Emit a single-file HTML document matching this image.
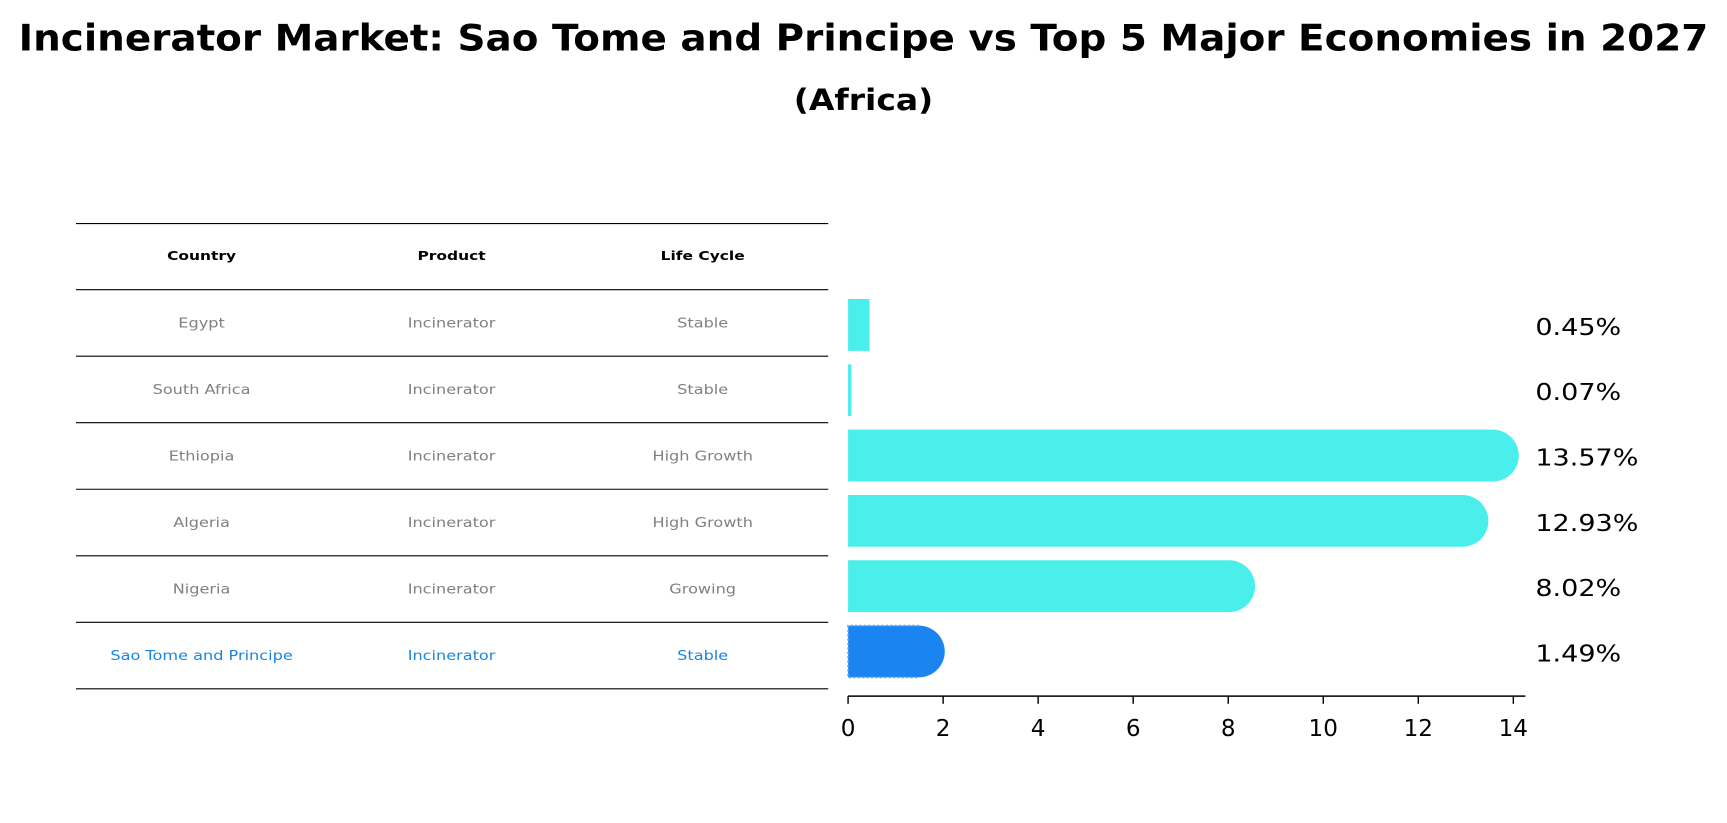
<!DOCTYPE html>
<html><head><meta charset="utf-8"><style>
html,body{margin:0;padding:0;background:#fff;}
svg{display:block;font-family:"DejaVu Sans","Liberation Sans",sans-serif;}
</style></head><body>
<svg id="chart" width="1727" height="823" viewBox="0 0 1568 747.2">
<text id="ttl" x="784" y="46" text-anchor="middle" font-size="33" font-weight="bold">Incinerator Market: Sao Tome and Principe vs Top 5 Major Economies in 2027</text>
<text id="sub" x="784" y="100" text-anchor="middle" font-size="27" font-weight="bold">(Africa)</text>
<g id="table"></g>
<g id="bars"></g>
<g id="axis"></g>
</svg>
<script>
const countries = ["Egypt","South Africa","Ethiopia","Algeria","Nigeria","Sao Tome and Principe"];
const products = ["Incinerator","Incinerator","Incinerator","Incinerator","Incinerator","Incinerator"];
const lifeCycles = ["Stable","Stable","High Growth","High Growth","Growing","Stable"];
const values = [0.45,0.07,13.57,12.93,8.02,1.49];
const valueLabels = ["0.45%","0.07%","13.57%","12.93%","8.02%","1.49%"];
const ticks = [0,2,4,6,8,10,12,14];

const NS="http://www.w3.org/2000/svg";
function mk(tag,attrs,parent,text){const e=document.createElementNS(NS,tag);for(const k in attrs)e.setAttribute(k,attrs[k]);if(text!==undefined)e.textContent=text;parent.appendChild(e);return e;}
function stretch(el,r){const w=el.getComputedTextLength();el.setAttribute('textLength',(w*r).toFixed(1));el.setAttribute('lengthAdjust','spacingAndGlyphs');}
const x0=770, x1=1374, tmax=14;
const xs=v=>x0+(x1-x0)*v/tmax;
const rowTop=263, rowH=60.4;
const rowC=i=>rowTop+rowH*i+rowH/2;
const barC=i=>295+59.3*i;

stretch(document.getElementById('ttl'),1.07);
stretch(document.getElementById('sub'),1.11);

const table=document.getElementById('table');
const cols=[183,410,638];
["Country","Product","Life Cycle"].forEach((h,j)=>{
  const t=mk('text',{x:cols[j],y:236,'text-anchor':'middle','font-size':11.5,'font-weight':'bold'},table,h);
  
  
  stretch(t,1.22);
});
for(let k=0;k<=countries.length+1;k++){
  const y=k===0?203:rowTop+rowH*(k-1);
  const l=mk('line',{x1:69,x2:752,y1:y,y2:y,stroke:'#000','stroke-width':1},table);
  
  
}
countries.forEach((c,i)=>{
  const last=i===countries.length-1;
  const col=last?'#1a85e0':'#808080';
  [c,products[i],lifeCycles[i]].forEach((s,j)=>{
    const t=mk('text',{x:cols[j],y:rowC(i)+4,'text-anchor':'middle','font-size':12,fill:col},table,s);
    
    
    stretch(t,1.22);
  });
});

const bars=document.getElementById('bars');
values.forEach((v,i)=>{
  const last=i===values.length-1;
  const col=last?'#1a85f0':'#4aeeea';
  const cy=barC(i), h=47, r=h/2;
  const xe=xs(v);
  let d;
  if(v>1){
    d=`M${x0},${cy-r} L${xe},${cy-r} A${r},${r} 0 0 1 ${xe},${cy+r} L${x0},${cy+r} Z`;
  } else {
    d=`M${x0},${cy-r} L${xe},${cy-r} L${xe},${cy+r} L${x0},${cy+r} Z`;
  }
  const p=mk('path',{d:d,fill:col},bars);
  
  
  if(last){
    const o=mk('path',{d:`M${xe},${cy-r} L${x0},${cy-r} L${x0},${cy+r} L${xe},${cy+r}`,fill:'none',stroke:'#5aa8f0','stroke-width':1.5,'stroke-dasharray':'2,2'},bars);
    
    
  }
  const t=mk('text',{x:1394,y:cy+9,'font-size':21},bars,valueLabels[i]);
  
  
  stretch(t,1.17);
});

const axis=document.getElementById('axis');
const al=mk('line',{x1:x0,x2:1385,y1:632,y2:632,stroke:'#000','stroke-width':1.3},axis);


ticks.forEach(t=>{
  const x=xs(t);
  const tk=mk('line',{x1:x,x2:x,y1:632,y2:639,stroke:'#000','stroke-width':1.3},axis);
  
  
  const lb=mk('text',{x:x,y:668,'text-anchor':'middle','font-size':21},axis,String(t));
  
  
});
</script>
</body></html>
